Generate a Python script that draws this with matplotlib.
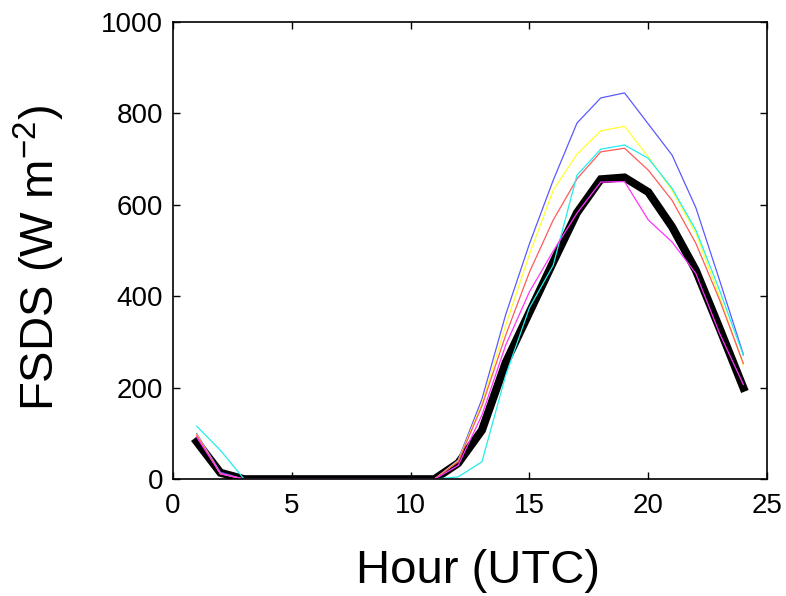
import matplotlib
matplotlib.use('Agg')
import matplotlib.pyplot as plt

hours = list(range(1, 25))

# mean (thick black) and individual runs
fsds_black = [82, 14, 0, 0, 0, 0, 0, 0, 0, 0, 0, 35, 107, 255, 365, 475, 583, 656, 660, 628, 552, 457, 330, 200]
fsds_blue = [100, 15, 0, 0, 0, 0, 0, 0, 0, 0, 0, 42, 175, 360, 515, 654, 779, 834, 845, 777, 709, 594, 435, 273]
fsds_yellow = [98, 12, 0, 0, 0, 0, 0, 0, 0, 0, 0, 40, 165, 337, 492, 632, 711, 762, 772, 705, 632, 538, 399, 250]
fsds_red = [96, 12, 0, 0, 0, 0, 0, 0, 0, 0, 0, 38, 160, 315, 453, 567, 657, 716, 724, 676, 610, 516, 392, 253]
fsds_cyan = [116, 63, 0, 0, 0, 0, 0, 0, 0, 0, 0, 5, 38, 227, 375, 468, 665, 722, 731, 702, 636, 545, 413, 271]
fsds_magenta = [92, 12, 0, 0, 0, 0, 0, 0, 0, 0, 0, 30, 140, 293, 410, 499, 582, 650, 651, 567, 519, 450, 319, 207]

plt.rcParams['font.family'] = ['Liberation Sans', 'DejaVu Sans']

fig = plt.figure(figsize=(7.86, 5.96), dpi=100)
ax = fig.add_axes([0.220, 0.196, 0.756, 0.767])

ax.plot(hours, fsds_black, color='black', lw=5.8, solid_joinstyle='miter')
ax.plot(hours, fsds_blue, color='#5a5aff', lw=0.9)
ax.plot(hours, fsds_yellow, color='#ffff33', lw=0.9)
ax.plot(hours, fsds_red, color='#ff5a5a', lw=0.9)
ax.plot(hours, fsds_cyan, color='#22eeee', lw=0.9)
ax.plot(hours, fsds_magenta, color='#ff33ff', lw=0.9)

ax.set_xlim(0, 25)
ax.set_ylim(0, 1000)
ax.set_xticks([0, 5, 10, 15, 20, 25])
ax.set_yticks([0, 200, 400, 600, 800, 1000])
ax.tick_params(direction='in', length=5, width=1, labelsize=20,
               top=True, right=True)
ax.tick_params(axis='y', pad=7)
ax.tick_params(axis='x', pad=10)
for s in ax.spines.values():
    s.set_linewidth(1.2)

ax.set_xlabel('Hour (UTC)', fontsize=34)
ax.set_ylabel('FSDS (W m$^{\\mathregular{-2}}$)', fontsize=34)
ax.xaxis.set_label_coords(0.513, -0.152)
ax.yaxis.set_label_coords(-0.178, 0.485)

fig.savefig('out.png', dpi=100)
